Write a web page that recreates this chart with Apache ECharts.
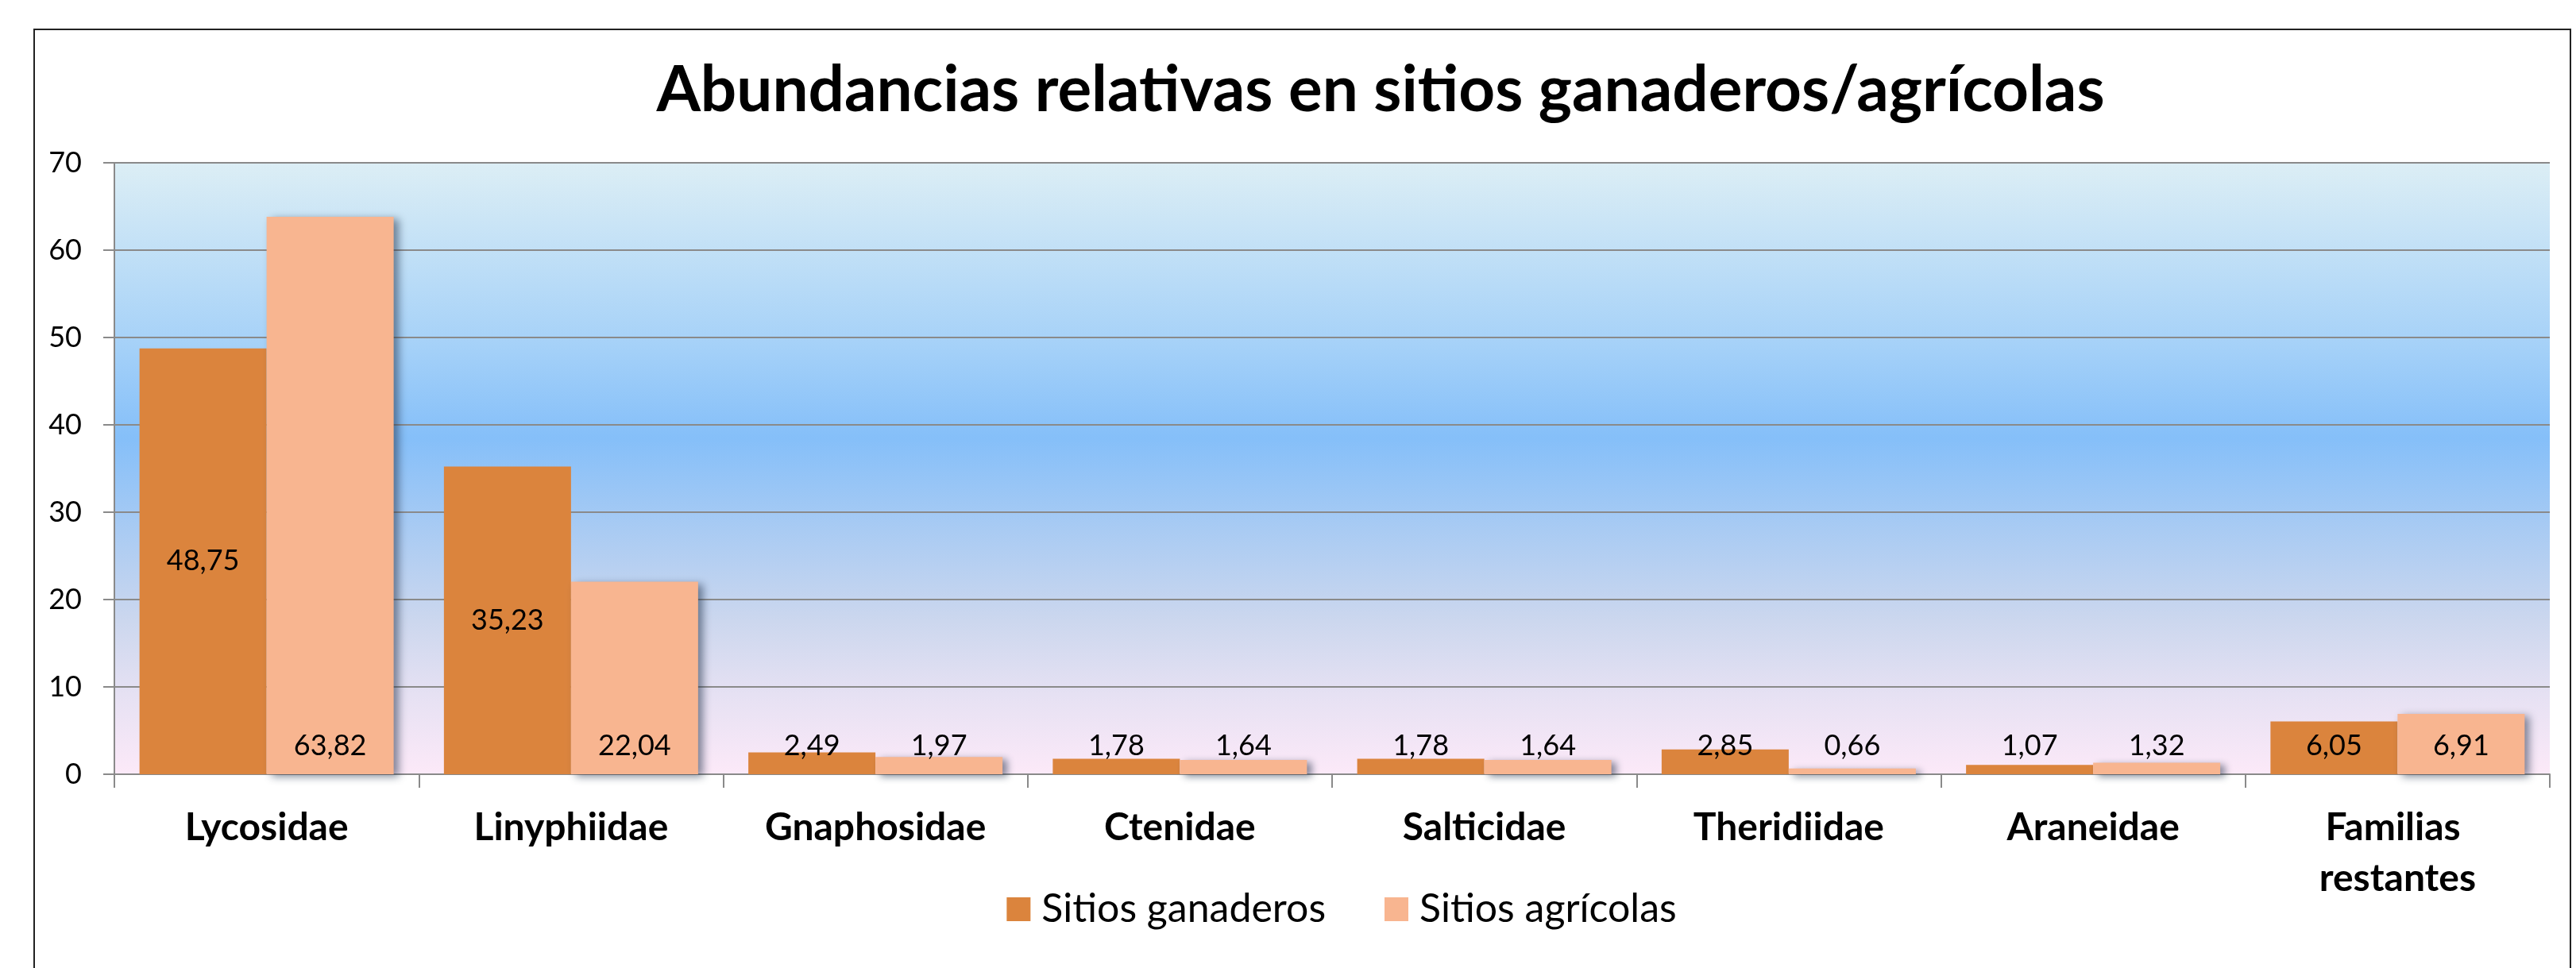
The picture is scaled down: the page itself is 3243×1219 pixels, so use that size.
<!DOCTYPE html>
<html><head><meta charset="utf-8">
<script src="https://cdn.jsdelivr.net/npm/echarts@6/dist/echarts.min.js"></script>
<style>html,body{margin:0;padding:0;background:#fff}#c{width:3243px;height:1219px}</style>
</head><body><div id="c"></div>
<script>
const categories = ['Lycosidae', 'Linyphiidae', 'Gnaphosidae', 'Ctenidae', 'Salticidae', 'Theridiidae', 'Araneidae', 'Familias restantes'];
const ganaderos = [48.75, 35.23, 2.49, 1.78, 1.78, 2.85, 1.07, 6.05];
const agricolas = [63.82, 22.04, 1.97, 1.64, 1.64, 0.66, 1.32, 6.91];
const seriesNames = ['Sitios ganaderos', 'Sitios agrícolas'];
const titleText = 'Abundancias relativas en sitios ganaderos/agrícolas';
const yMin = 0, yMax = 70, yStep = 10;

function textWidth(t, font) {
  const ctx = document.createElement('canvas').getContext('2d');
  ctx.font = font; return ctx.measureText(t).width;
}
const titleFont = 80;
const titleW = textWidth(titleText, 'bold ' + titleFont + 'px Lato');
const legFont = 50, legPad = 9, legGap = 74, legIcon = 30;
const lw1 = textWidth(seriesNames[0], legFont + 'px Lato');
const lw2 = textWidth(seriesNames[1], legFont + 'px Lato');
const legTotal = (legIcon + 5 + legPad + lw1) + legGap + (legIcon + 5 + legPad + lw2);

const fmt = p => p.value.toFixed(2).replace('.', ',');
const labelBase = { show: true, color: '#000', fontFamily: 'Lato', fontSize: 36, lineHeight: 36, formatter: fmt };

const chart = echarts.init(document.getElementById('c'), null, { renderer: 'canvas' });
chart.setOption({
  animation: false,
  backgroundColor: '#fff',
  title: {
    text: titleText, left: 1738 - titleW / 2, top: 74, padding: 0,
    textStyle: { fontFamily: 'Lato', fontWeight: 'bold', fontSize: titleFont, lineHeight: 80, color: '#000' }
  },
  legend: {
    data: seriesNames, left: 1689 - legTotal / 2, top: 1120, padding: 0,
    itemWidth: legIcon, itemHeight: legIcon, itemGap: legGap, icon: 'rect',
    textStyle: { fontFamily: 'Lato', fontSize: legFont, lineHeight: 50, color: '#000', padding: [0, 0, 0, legPad] }
  },
  graphic: [{
    type: 'rect', shape: { x: 43, y: 37, width: 3193, height: 1300 },
    style: { fill: 'none', stroke: '#222', lineWidth: 2 }, silent: true, z: 100
  }],
  grid: {
    left: 144, right: 33, top: 205, bottom: 244, show: true, borderWidth: 0,
    backgroundColor: new echarts.graphic.LinearGradient(0, 0, 0, 1, [
      { offset: 0, color: '#DCEEF5' },
      { offset: 0.3, color: '#A5D1F8' },
      { offset: 0.45, color: '#85BFF9' },
      { offset: 0.6, color: '#A9CBF3' },
      { offset: 0.75, color: '#CCD7EE' },
      { offset: 0.87, color: '#E6E1F3' },
      { offset: 1, color: '#FCE9F8' }
    ])
  },
  xAxis: {
    type: 'category', data: categories,
    axisLine: { lineStyle: { color: '#8A8A8A', width: 2 } },
    axisTick: { show: true, length: 17, lineStyle: { color: '#8A8A8A', width: 2 } },
    axisLabel: { interval: 0, margin: 36, color: '#000', fontFamily: 'Lato', fontWeight: 'bold', fontSize: 48, lineHeight: 64, width: 370, overflow: 'break' }
  },
  yAxis: {
    type: 'value', min: yMin, max: yMax, interval: yStep,
    axisLine: { show: true, lineStyle: { color: '#8A8A8A', width: 2 } },
    axisTick: { show: true, length: 14, lineStyle: { color: '#8A8A8A', width: 2 } },
    splitLine: { lineStyle: { color: '#8A8A8A', width: 2 } },
    axisLabel: { margin: 41, color: '#000', fontFamily: 'Lato', fontSize: 36 }
  },
  series: [
    {
      name: seriesNames[0], type: 'bar', barGap: '0%', barCategoryGap: '16.5%',
      itemStyle: { color: '#DB843D' },
      data: ganaderos.map(v => ({ value: v, label: v >= 10 ? { position: 'inside' } : { position: 'insideBottom', distance: 18 } })),
      label: labelBase
    },
    {
      name: seriesNames[1], type: 'bar', barGap: '0%', barCategoryGap: '16.5%',
      itemStyle: { color: '#F8B590', shadowColor: 'rgba(30,45,70,0.55)', shadowBlur: 10, shadowOffsetX: 6, shadowOffsetY: 3 },
      data: agricolas.slice(),
      label: Object.assign({}, labelBase, { position: 'insideBottom', distance: 18 })
    }
  ]
});
</script></body></html>
